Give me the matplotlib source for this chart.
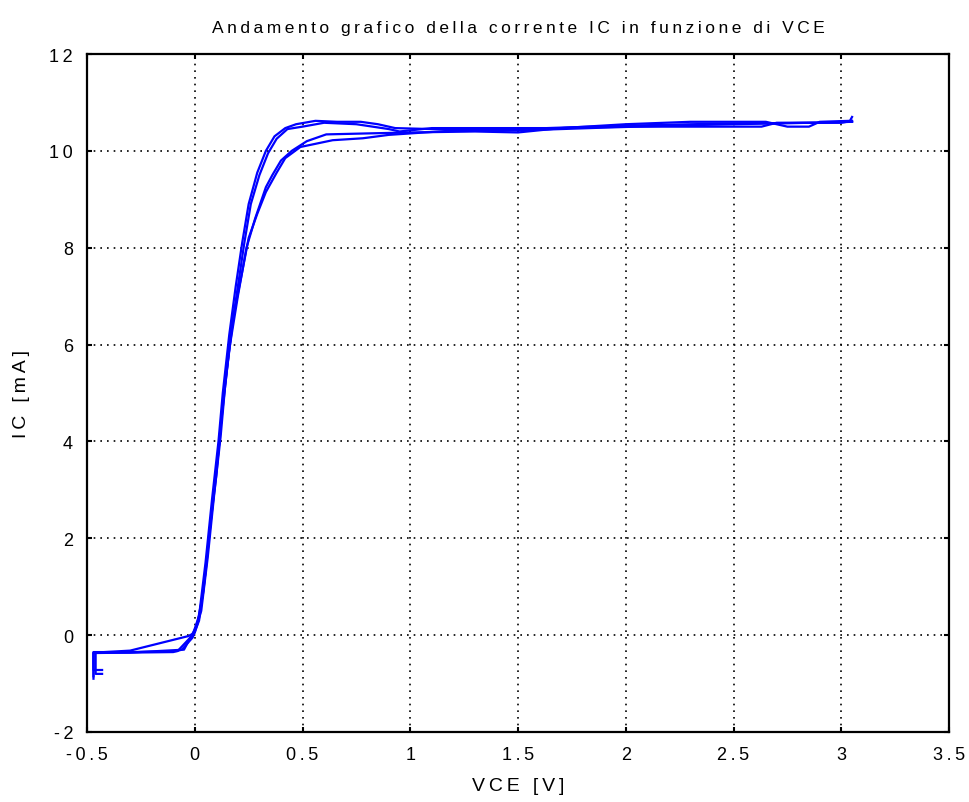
import matplotlib
matplotlib.use('Agg')
import matplotlib.pyplot as plt
import numpy as np

plt.rcParams['font.family'] = ['Liberation Sans', 'DejaVu Sans']

# sweeps of the collector characteristic (VCE in V, IC in mA)
vce_1 = [-0.47, -0.47, -0.30, -0.08, -0.01, 0.02, 0.05, 0.08, 0.11, 0.13, 0.16, 0.19,
         0.22, 0.25, 0.29, 0.33, 0.37, 0.42, 0.47, 0.56, 0.66, 0.77, 0.85, 0.93, 1.10,
         1.30, 1.50, 1.70, 2.00, 2.30, 2.60, 2.90, 3.05]
ic_1 = [-0.85, -0.35, -0.35, -0.33, 0.00, 0.40, 1.50, 2.80, 4.00, 5.00, 6.20, 7.20,
        8.10, 8.90, 9.55, 10.00, 10.30, 10.47, 10.55, 10.62, 10.60, 10.60, 10.55, 10.47,
        10.45, 10.44, 10.45, 10.48, 10.52, 10.55, 10.57, 10.58, 10.60]

vce_2 = [3.05, 3.04, 2.90, 2.85, 2.75, 2.65, 2.30, 2.00, 1.70, 1.50, 1.30, 1.10, 0.95,
         0.90, 0.75, 0.60, 0.50, 0.43, 0.38, 0.34, 0.30, 0.26, 0.23, 0.20, 0.17, 0.14,
         0.12, 0.09, 0.06, 0.03, 0.00, -0.03, -0.30, -0.46, -0.46, -0.43]
ic_2 = [10.70, 10.62, 10.60, 10.50, 10.50, 10.60, 10.60, 10.55, 10.47, 10.47, 10.47,
        10.47, 10.40, 10.45, 10.55, 10.58, 10.50, 10.45, 10.25, 9.95, 9.50, 8.90, 8.10,
        7.20, 6.30, 5.10, 4.10, 2.90, 1.60, 0.50, 0.05, -0.02, -0.32, -0.36, -0.80, -0.80]

vce_3 = [-0.47, -0.47, -0.10, -0.06, -0.01, 0.02, 0.05, 0.08, 0.11, 0.13, 0.16, 0.20,
         0.24, 0.28, 0.33, 0.36, 0.40, 0.45, 0.52, 0.61, 0.80, 1.00, 1.30, 1.50, 1.70,
         2.00, 2.30, 2.63, 2.70, 3.00, 3.05]
ic_3 = [-0.90, -0.37, -0.35, -0.30, -0.05, 0.30, 1.30, 2.60, 3.80, 4.80, 5.90, 7.00,
        8.00, 8.60, 9.25, 9.50, 9.80, 10.00, 10.20, 10.34, 10.36, 10.38, 10.40, 10.38,
        10.47, 10.50, 10.50, 10.50, 10.58, 10.58, 10.62]

vce_4 = [3.05, 2.85, 2.50, 2.20, 1.90, 1.50, 1.20, 1.00, 0.90, 0.78, 0.64, 0.49, 0.42,
         0.38, 0.33, 0.29, 0.25, 0.22, 0.18, 0.15, 0.12, 0.10, 0.07, 0.04, 0.01, -0.05,
         -0.30, -0.47, -0.47, -0.43]
ic_4 = [10.60, 10.58, 10.55, 10.52, 10.48, 10.42, 10.42, 10.36, 10.33, 10.26, 10.22,
        10.08, 9.85, 9.55, 9.15, 8.70, 8.20, 7.50, 6.60, 5.50, 4.30, 3.30, 2.20, 0.90,
        0.20, -0.30, -0.36, -0.36, -0.72, -0.72]

sweeps = [(vce_1, ic_1), (vce_2, ic_2), (vce_3, ic_3), (vce_4, ic_4)]

x_ticks = [-0.5, 0, 0.5, 1, 1.5, 2, 2.5, 3, 3.5]
y_ticks = [-2, 0, 2, 4, 6, 8, 10, 12]


def spaced(s):
    # widen the letter spacing
    return '\u2009'.join(s)


fig = plt.figure(figsize=(9.7, 8.03), dpi=100)
ax = fig.add_axes([0.0897, 0.0872, 0.8887, 0.8443])

for vx, iy in sweeps:
    ax.plot(vx, iy, color='#0000ff', linewidth=1.6)

ax.set_xlim(-0.5, 3.5)
ax.set_ylim(-2, 12)
ax.set_xticks(x_ticks)
ax.set_yticks(y_ticks)
ax.set_xticklabels([spaced(f'{v:g}') for v in x_ticks])
ax.set_yticklabels([spaced(f'{v:g}') for v in y_ticks])

ax.grid(True, color='black', linestyle=(0, (1, 3)), linewidth=1.2)
ax.tick_params(direction='in', length=3.5, width=1.5, top=True, right=True,
               labelsize=13, pad=10)
for sp in ax.spines.values():
    sp.set_linewidth(1.6)

ax.set_title(spaced('Andamento grafico della corrente IC in funzione di VCE'),
             fontsize=12.5, pad=16)
ax.set_xlabel(spaced('VCE [V]'), fontsize=14, labelpad=10)
ax.set_ylabel(spaced('IC [mA]'), fontsize=14, labelpad=14)

plt.savefig('out.png', dpi=100)
